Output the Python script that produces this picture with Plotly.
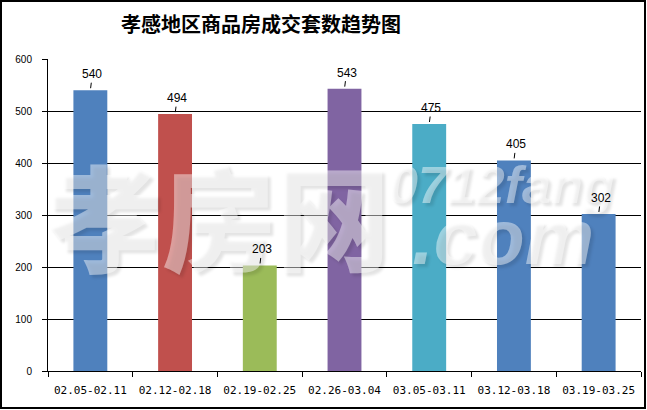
import plotly.graph_objects as go

categories = ["02.05-02.11", "02.12-02.18", "02.19-02.25", "02.26-03.04",
              "03.05-03.11", "03.12-03.18", "03.19-03.25"]
values = [540, 494, 203, 543, 475, 405, 302]
bar_colors = ["#4F81BD", "#C0504D", "#9BBB59", "#8064A2", "#4BACC6", "#4F81BD", "#4F81BD"]
y_ticks = [0, 100, 200, 300, 400, 500, 600]
title_text = "孝感地区商品房成交套数趋势图"

W, H = 647, 410
ML, MR, MT, MB = 48, 6, 59, 39
PW, PH = W - ML - MR, H - MT - MB

fig = go.Figure()
fig.add_trace(go.Bar(
    x=categories, y=values, width=0.4,
    marker=dict(color=bar_colors, line=dict(width=0)),
    hoverinfo="x+y",
))

annotations = []

# watermark (drawn first so the data labels sit on top)
def px_x(p):
    return (p - ML) / PW
def px_y(p):
    return (H - MB - p) / PH

wm_shadow = "3px 3px 3px rgba(0,0,0,0.25)"
wm_color = "rgba(255,255,255,0.45)"
annotations.append(dict(
    x=px_x(219), y=px_y(212), xref="paper", yref="paper", showarrow=False,
    text="孝房网", xanchor="center", yanchor="middle",
    font=dict(family="Noto Sans CJK SC", size=114, color=wm_color, shadow=wm_shadow, weight=900),
))
annotations.append(dict(
    x=px_x(501), y=px_y(185), xref="paper", yref="paper", showarrow=False,
    text="<i>0712fang</i>", xanchor="center", yanchor="middle",
    font=dict(family="Liberation Sans, Arial, sans-serif", size=52, color=wm_color, shadow=wm_shadow, weight="bold"),
))
annotations.append(dict(
    x=px_x(503), y=px_y(237), xref="paper", yref="paper", showarrow=False,
    text="<i>.com</i>", xanchor="center", yanchor="middle",
    font=dict(family="Liberation Sans, Arial, sans-serif", size=78, color=wm_color, shadow=wm_shadow, weight="bold"),
))

for c, v in zip(categories, values):
    annotations.append(dict(
        x=c, y=v, xref="x", yref="y", text=str(v),
        showarrow=True, arrowhead=0, arrowwidth=1, arrowcolor="#000000",
        ax=2, ay=-16, standoff=2,
        font=dict(family="Liberation Sans, Arial, sans-serif", size=12, color="#000000"),
    ))

shapes = [dict(
    type="rect", xref="paper", yref="paper",
    x0=px_x(1), x1=px_x(645), y0=px_y(408), y1=px_y(1),
    line=dict(color="#000000", width=2), fillcolor="rgba(0,0,0,0)", layer="above",
)]

fig.update_layout(
    width=W, height=H,
    margin=dict(l=ML, r=MR, t=MT, b=MB, pad=0),
    paper_bgcolor="#FFFFFF", plot_bgcolor="#FFFFFF",
    showlegend=False,
    title=dict(text=title_text, x=261 / W, xref="container", xanchor="center",
               y=1 - 25 / H, yref="container", yanchor="middle",
               font=dict(family="Noto Sans CJK SC", size=20, color="#000000", weight="bold")),
    xaxis=dict(
        type="category", showgrid=False, showline=True, linecolor="#000000", linewidth=1,
        ticks="outside", tickson="boundaries", ticklen=5, tickcolor="#000000",
        ticklabelstandoff=9,
        tickfont=dict(family="DejaVu Sans Mono, monospace", size=11, color="#000000"),
        range=[-0.5, 6.5], fixedrange=True,
    ),
    yaxis=dict(
        range=[0, 600], tickvals=y_ticks, showgrid=True, gridcolor="#000000", gridwidth=1,
        showline=True, linecolor="#000000", linewidth=1, zeroline=False,
        ticks="outside", ticklen=5, tickcolor="#000000", ticklabelstandoff=8,
        tickfont=dict(family="Liberation Sans, Arial, sans-serif", size=10, color="#000000"),
    ),
    annotations=annotations,
    shapes=shapes,
)

fig.write_html("out.html", config={"displayModeBar": False},
               post_script="document.body.style.margin='0';document.body.style.overflow='hidden';")
